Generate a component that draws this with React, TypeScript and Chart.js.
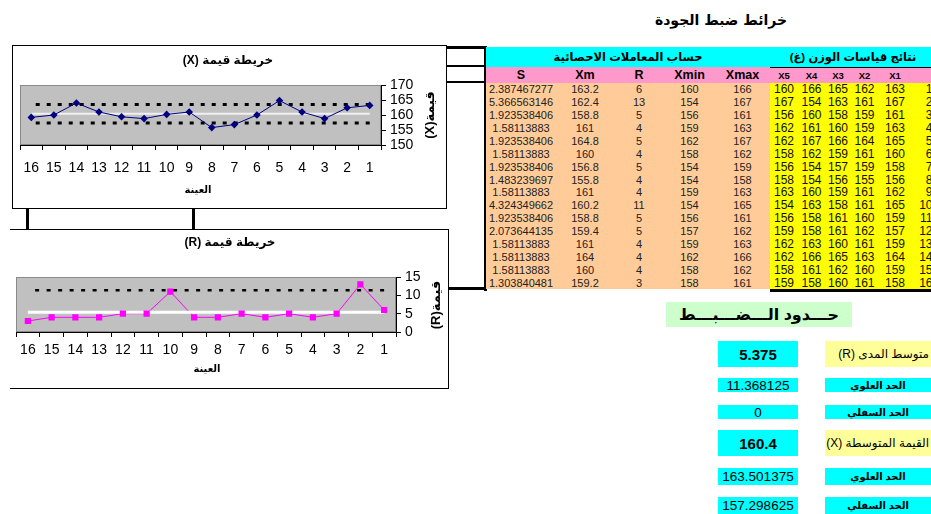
import React, { useEffect, useRef } from "react";
import { Chart, registerables } from "chart.js";

Chart.register(...registerables);

const FONT = "'Liberation Sans', Arial, 'DejaVu Sans', sans-serif";

// ---- data ----
const SAMPLES = ["1", "2", "3", "4", "5", "6", "7", "8", "9", "10", "11", "12", "13", "14", "15", "16"];
const X1 = [163, 167, 161, 163, 165, 160, 158, 156, 162, 165, 159, 157, 159, 164, 159, 158];
const X2 = [162, 161, 159, 159, 164, 161, 159, 155, 161, 161, 160, 162, 161, 163, 160, 161];
const X3 = [165, 163, 158, 160, 166, 159, 157, 156, 159, 158, 161, 161, 160, 165, 162, 160];
const X4 = [166, 154, 160, 161, 167, 162, 154, 154, 160, 163, 158, 158, 163, 166, 161, 158];
const X5 = [160, 167, 156, 162, 162, 158, 156, 158, 163, 154, 156, 159, 162, 162, 158, 159];
const XMAX = [166, 167, 161, 163, 167, 162, 159, 158, 163, 165, 161, 162, 163, 166, 162, 161];
const XMIN = [160, 154, 156, 159, 162, 158, 154, 154, 159, 154, 156, 157, 159, 162, 158, 158];
const R_VALUES = [6, 13, 5, 4, 5, 4, 5, 4, 4, 11, 5, 5, 4, 4, 4, 3];
const XM_VALUES = [163.2, 162.4, 158.8, 161, 164.8, 160, 156.8, 155.8, 161, 160.2, 158.8, 159.4, 161, 164, 160, 159.2];
const S_VALUES = [
  "2.387467277", "5.366563146", "1.923538406", "1.58113883", "1.923538406", "1.58113883",
  "1.923538406", "1.483239697", "1.58113883", "4.324349662", "1.923538406", "2.073644135",
  "1.58113883", "1.58113883", "1.58113883", "1.303840481",
];
const X_UCL = [163.501375, 163.501375, 163.501375, 163.501375, 163.501375, 163.501375, 163.501375, 163.501375, 163.501375, 163.501375, 163.501375, 163.501375, 163.501375, 163.501375, 163.501375, 163.501375];
const X_CL = [160.4, 160.4, 160.4, 160.4, 160.4, 160.4, 160.4, 160.4, 160.4, 160.4, 160.4, 160.4, 160.4, 160.4, 160.4, 160.4];
const X_LCL = [157.298625, 157.298625, 157.298625, 157.298625, 157.298625, 157.298625, 157.298625, 157.298625, 157.298625, 157.298625, 157.298625, 157.298625, 157.298625, 157.298625, 157.298625, 157.298625];
const R_UCL = [11.368125, 11.368125, 11.368125, 11.368125, 11.368125, 11.368125, 11.368125, 11.368125, 11.368125, 11.368125, 11.368125, 11.368125, 11.368125, 11.368125, 11.368125, 11.368125];
const R_CL = [5.375, 5.375, 5.375, 5.375, 5.375, 5.375, 5.375, 5.375, 5.375, 5.375, 5.375, 5.375, 5.375, 5.375, 5.375, 5.375];
const X_TICKS = [150, 155, 160, 165, 170];
const R_TICKS = [0, 5, 10, 15];

type Deco = {
  title: string; tx: number; ty: number;
  xTitle: string; xx: number; xy: number;
  yTitle: string; yx: number; yy: number;
};

function decoPlugin(d: Deco) {
  return {
    id: "deco",
    beforeDraw(chart: any) {
      const { ctx, chartArea: a } = chart;
      ctx.save();
      ctx.fillStyle = "#c0c0c0";
      ctx.fillRect(a.left, a.top, a.right - a.left, a.bottom - a.top);
      ctx.strokeStyle = "#8a8a8a";
      ctx.lineWidth = 1;
      ctx.strokeRect(a.left + 0.5, a.top + 0.5, a.right - a.left - 1, a.bottom - a.top - 1);
      ctx.restore();
    },
    afterDraw(chart: any) {
      const { ctx } = chart;
      ctx.save();
      ctx.direction = "rtl";
      ctx.fillStyle = "#000";
      ctx.textAlign = "center";
      ctx.textBaseline = "middle";
      ctx.font = `bold 12px ${FONT}`;
      ctx.fillText(d.title, d.tx, d.ty);
      ctx.font = `bold 10px ${FONT}`;
      ctx.fillText(d.xTitle, d.xx, d.xy);
      ctx.translate(d.yx, d.yy);
      ctx.rotate(-Math.PI / 2);
      ctx.font = `bold 13px ${FONT}`;
      ctx.fillText(d.yTitle, 0, 0);
      ctx.restore();
    },
  };
}

type ChartProps = {
  width: number; height: number;
  datasets: any[];
  min: number; max: number; ticks: number[];
  pad: { left: number; top: number; right: number; bottom: number };
  yWidth: number; xHeight: number; xPad: number; yPad: number;
  deco: Deco;
};

function ControlChart(p: ChartProps) {
  const ref = useRef<HTMLCanvasElement | null>(null);
  useEffect(() => {
    if (!ref.current) return;
    const chart = new Chart(ref.current, {
      type: "line",
      data: { labels: SAMPLES, datasets: p.datasets },
      plugins: [decoPlugin(p.deco)],
      options: {
        animation: false,
        responsive: false,
        maintainAspectRatio: false,
        layout: { padding: p.pad },
        plugins: { legend: { display: false }, tooltip: { enabled: false }, title: { display: false } },
        scales: {
          x: {
            type: "category",
            reverse: true,
            offset: true,
            grid: { display: true, offset: true, drawOnChartArea: false, drawTicks: true, tickLength: 5, color: "#000", lineWidth: 1 },
            border: { display: true, color: "#000", width: 1 },
            ticks: { color: "#000", font: { family: FONT, size: 14 }, padding: p.xPad, maxRotation: 0, autoSkip: false },
            afterFit: (s: any) => { s.height = p.xHeight; },
          },
          y: {
            position: "right",
            min: p.min,
            max: p.max,
            afterBuildTicks: (s: any) => { s.ticks = p.ticks.map((v) => ({ value: v })); },
            grid: { display: true, drawOnChartArea: false, drawTicks: true, tickLength: 5, color: "#000", lineWidth: 1 },
            border: { display: true, color: "#000", width: 1 },
            ticks: { color: "#000", font: { family: FONT, size: 14 }, padding: p.yPad, autoSkip: false },
            afterFit: (s: any) => { s.width = p.yWidth; },
          },
        },
      } as any,
    });
    return () => chart.destroy();
  }, []);
  return <canvas ref={ref} width={p.width} height={p.height} style={{ position: "absolute", left: 0, top: 0, width: p.width, height: p.height }} />;
}

const limitLine = (data: number[], order: number, width: number, dash: number[]) => ({
  data, borderColor: "#000", borderWidth: width, borderDash: dash, pointRadius: 0, fill: false, order,
  borderCapStyle: "butt",
});
const centerLine = (data: number[], order: number, width: number, color: string) => ({
  data, borderColor: color, borderWidth: width, pointRadius: 0, fill: false, order,
});

const xDatasets = [
  { data: XM_VALUES, borderColor: "#000080", backgroundColor: "#000080", borderWidth: 1, pointStyle: "rectRot", pointRadius: 3.8, pointBorderWidth: 0, order: 0 },
  centerLine(X_CL, 1, 2, "#f0f0f0"),
  limitLine(X_UCL, 2, 3, [4, 7]),
  limitLine(X_LCL, 3, 3, [4, 7]),
];

const rDatasets = [
  // markers on top of everything
  { data: R_VALUES, showLine: false, borderColor: "#ff00ff", backgroundColor: "#ff00ff", pointStyle: "rect", pointRadius: 4.4, pointBorderWidth: 0, order: 0 },
  centerLine(R_CL, 1, 3, "#ffffff"),
  // the connecting line sits below the white centre line
  { data: R_VALUES, borderColor: "#ff00ff", borderWidth: 1, pointRadius: 0, fill: false, order: 2 },
  limitLine(R_UCL, 3, 2.5, [4, 7.5]),
];

const abs = (x: number, y: number, w: number, h: number, extra: React.CSSProperties = {}): React.CSSProperties => ({
  position: "absolute", left: x, top: y, width: w, height: h, boxSizing: "border-box", ...extra,
});

const center: React.CSSProperties = { display: "flex", alignItems: "center", justifyContent: "center", whiteSpace: "nowrap" };

const ROW_TOP = 83;
const ROW_H = 12.875;
const LEFT_COLS = [
  { x: 486, w: 70, h: "S" },
  { x: 556, w: 58, h: "Xm" },
  { x: 614, w: 50, h: "R" },
  { x: 664, w: 51, h: "Xmin" },
  { x: 715, w: 55, h: "Xmax" },
];
const RIGHT_COLS = [
  { x: 770, w: 28, h: "X5" },
  { x: 798, w: 27, h: "X4" },
  { x: 825, w: 26, h: "X3" },
  { x: 851, w: 27, h: "X2" },
  { x: 878, w: 34, h: "X1" },
];

function DataTable() {
  const leftVals = [S_VALUES, XM_VALUES.map(String), R_VALUES.map(String), XMIN.map(String), XMAX.map(String)];
  const rightVals = [X5, X4, X3, X2, X1];
  const cells: React.ReactNode[] = [];
  SAMPLES.forEach((s, i) => {
    const y = ROW_TOP + i * ROW_H;
    LEFT_COLS.forEach((c, j) => {
      cells.push(
        <div key={`l${i}-${j}`} style={abs(c.x, y, c.w, ROW_H, { ...center, fontSize: 11, color: "#222" })}>{leftVals[j][i]}</div>
      );
    });
    RIGHT_COLS.forEach((c, j) => {
      cells.push(
        <div key={`r${i}-${j}`} style={abs(c.x, y, c.w, ROW_H, { ...center, fontSize: 12, color: "#111" })}>{rightVals[j][i]}</div>
      );
    });
    cells.push(
      <div key={`n${i}`} style={abs(910, y, 22.5, ROW_H, { display: "flex", alignItems: "center", justifyContent: "flex-end", fontSize: 12, color: "#111", whiteSpace: "nowrap" })}>{s}</div>
    );
  });
  return (
    <>
      <div style={abs(486, 47, 450, 20, { background: "#00ffff" })} />
      <div style={abs(486, 67, 450, 16, { background: "#ff99cc" })} />
      <div style={abs(770, 67, 166, 1, { background: "#000" })} />
      <div style={abs(486, ROW_TOP, 284, ROW_H * 16, { background: "#ffcc99" })} />
      <div style={abs(770, ROW_TOP, 166, ROW_H * 16, { background: "#ffff00" })} />
      <div style={abs(770, ROW_TOP + ROW_H * 16, 166, 3, { background: "#000" })} />
      <div dir="rtl" style={abs(486, 47, 284, 20, { ...center, fontWeight: "bold", fontSize: 11.5 })}>حساب المعاملات الاحصائية</div>
      <div dir="rtl" style={abs(775, 47, 156, 20, { ...center, fontWeight: "bold", fontSize: 11.5 })}>نتائج قياسات الوزن (غ)</div>
      {LEFT_COLS.map((c) => (
        <div key={c.h} style={abs(c.x, 67, c.w, 16, { ...center, fontWeight: "bold", fontSize: 12.5 })}>{c.h}</div>
      ))}
      {RIGHT_COLS.map((c) => (
        <div key={c.h} style={abs(c.x, 67, c.w, 16, { ...center, fontWeight: "bold", fontSize: 9.5 })}>{c.h}</div>
      ))}
      {cells}
    </>
  );
}

function Limits() {
  const rows = [
    { y: 341, h: 26, v: "5.375", bold: true, label: "متوسط المدى  (R)", yellow: true },
    { y: 378, h: 14, v: "11.368125", bold: false, label: "الحد العلوي", yellow: false },
    { y: 405, h: 14, v: "0", bold: false, label: "الحد السفلي", yellow: false },
    { y: 430, h: 26, v: "160.4", bold: true, label: "القيمة المتوسطة (X)", yellow: true },
    { y: 468, h: 17, v: "163.501375", bold: false, label: "الحد العلوي", yellow: false },
    { y: 497, h: 17, v: "157.298625", bold: false, label: "الحد السفلي", yellow: false },
  ];
  return (
    <>
      <div dir="rtl" style={abs(666, 302, 186, 25, { ...center, background: "#ccffcc", fontWeight: "bold", fontSize: 16 })}>حـــدود الـــضـــبـــط</div>
      {rows.map((r, i) => (
        <React.Fragment key={i}>
          <div style={abs(718, r.y, 80, r.h, { ...center, background: "#00ffff", fontWeight: r.bold ? "bold" : "normal", fontSize: r.bold ? 15 : 13.5 })}>{r.v}</div>
          {r.yellow ? (
            <div dir="rtl" style={abs(825, r.y, 110, r.h, { display: "flex", alignItems: "center", justifyContent: "flex-start", paddingRight: 6, background: "#ffff99", fontSize: 12, whiteSpace: "nowrap" })}>{r.label}</div>
          ) : (
            <div dir="rtl" style={abs(825, r.y, 106, r.h, { ...center, background: "#00ffff", fontWeight: "bold", fontSize: 10 })}>{r.label}</div>
          )}
        </React.Fragment>
      ))}
    </>
  );
}

export default function App() {
  return (
    <div style={{ position: "absolute", left: 0, top: 0, width: 931, height: 514, overflow: "hidden", background: "#fff", fontFamily: FONT, color: "#000" }}>
      <div dir="rtl" style={abs(640, 6, 162, 28, { ...center, fontWeight: "bold", fontSize: 14, fontFamily: "'DejaVu Sans', sans-serif" })}>خرائط ضبط الجودة</div>

      {/* connectors */}
      <div style={abs(446, 46, 40, 3, { background: "#000" })} />
      <div style={abs(446, 65, 40, 2, { background: "#000" })} />
      <div style={abs(446, 81, 38, 2, { background: "#000" })} />
      <div style={abs(484, 46, 3, 245, { background: "#000" })} />
      <div style={abs(448, 287, 39, 3, { background: "#000" })} />
      <div style={abs(26, 208, 3, 21, { background: "#000" })} />
      <div style={abs(192, 208, 3, 21, { background: "#000" })} />

      <DataTable />
      <Limits />

      {/* X chart */}
      <div style={abs(12, 45, 435, 164, { border: "1px solid #000", background: "#fff" })}>
        <ControlChart
          width={433} height={162}
          datasets={xDatasets}
          min={150} max={170} ticks={X_TICKS}
          pad={{ left: 7, top: 39, right: 25, bottom: 0 }}
          yWidth={40} xHeight={63} xPad={10} yPad={4}
          deco={{ title: "خريطة قيمة (X)", tx: 215, ty: 15, xTitle: "العينة", xx: 185, xy: 144, yTitle: "قيمة(X)", yx: 417, yy: 69 }}
        />
      </div>

      {/* R chart */}
      <div style={abs(10, 229, 439, 160, { borderTop: "1px solid #000", borderRight: "1px solid #000", borderBottom: "1px solid #000", background: "#fff" })}>
        <ControlChart
          width={438} height={158}
          datasets={rDatasets}
          min={0} max={15} ticks={R_TICKS}
          pad={{ left: 6, top: 47, right: 22, bottom: 0 }}
          yWidth={30} xHeight={56} xPad={5} yPad={4}
          deco={{ title: "خريطة قيمة (R)", tx: 220, ty: 13, xTitle: "العينة", xx: 197, xy: 139, yTitle: "قيمة(R)", yx: 426, yy: 75 }}
        />
      </div>
    </div>
  );
}
